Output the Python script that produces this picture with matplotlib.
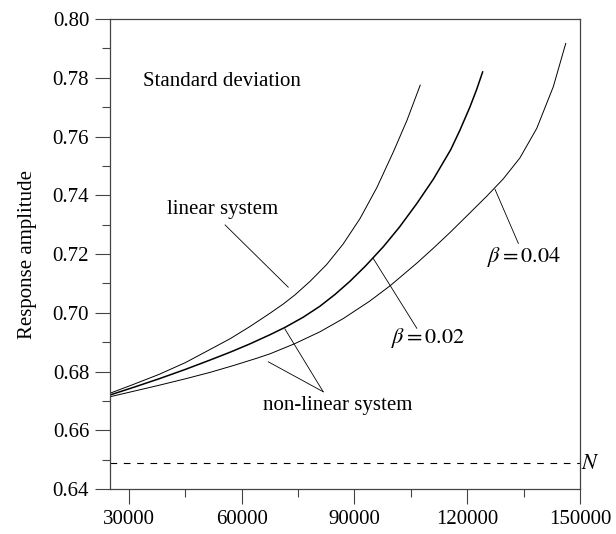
import matplotlib
matplotlib.use("Agg")
import matplotlib.pyplot as plt
from matplotlib.ticker import MultipleLocator

# ---------------------------------
# Values
# ---------------------------------
n_linear = [25000, 31000, 38000, 45000, 51600, 57000, 62200, 67500, 71100,
            74200, 78200, 82600, 87000, 91500, 96000, 100400, 104000, 107500]
amp_linear = [0.6726, 0.6755, 0.6790, 0.6830, 0.6875, 0.6912, 0.6953, 0.6998, 0.7030,
              0.7061, 0.7107, 0.7164, 0.7234, 0.7321, 0.7427, 0.7549, 0.7656, 0.7775]

n_beta002 = [25000, 31000, 38000, 45000, 51600, 57000, 62200, 67500, 71500, 76400,
             80800, 84800, 88800, 93000, 97700, 102000, 106600, 111000, 115600,
             118000, 120700, 122500, 124100]
amp_beta002 = [0.6720, 0.6745, 0.6775, 0.6807, 0.6839, 0.6866, 0.6894, 0.6925, 0.6950,
               0.6985, 0.7022, 0.7062, 0.7107, 0.7160, 0.7225, 0.7292, 0.7372, 0.7455,
               0.7555, 0.7620, 0.7700, 0.7760, 0.7820]

n_beta004 = [25000, 31000, 38000, 45000, 51600, 58000, 64000, 67500, 74000, 80800,
             87000, 94000, 99500, 106600, 111000, 115400, 120000, 125200, 129600,
             134000, 138500, 142900, 146200]
amp_beta004 = [0.6714, 0.6732, 0.6753, 0.6775, 0.6797, 0.6821, 0.6845, 0.6860, 0.6894,
               0.6935, 0.6980, 0.7039, 0.7092, 0.7169, 0.7220, 0.7273, 0.7331, 0.7397,
               0.7456, 0.7527, 0.7628, 0.7770, 0.7917]

dashed_level = 0.649

x_ticks = [30000, 60000, 90000, 120000, 150000]
y_ticks = [0.64, 0.66, 0.68, 0.70, 0.72, 0.74, 0.76, 0.78, 0.80]

plt.rcParams["font.family"] = ["Liberation Serif", "DejaVu Serif"]
plt.rcParams["mathtext.fontset"] = "stix"

fig = plt.figure(figsize=(6.16, 5.34), dpi=100)
ax = fig.add_axes([0.1786, 0.0843, 0.763, 0.880])

ax.plot(n_linear, amp_linear, color="black", lw=0.7)
ax.plot(n_beta002, amp_beta002, color="black", lw=1.1)
ax.plot(n_beta004, amp_beta004, color="black", lw=0.7)
ax.axhline(dashed_level, color="black", lw=0.8, linestyle=(0, (6, 6)))

ax.set_xlim(25000, 150000)
ax.set_ylim(0.64, 0.80)
ax.set_xticks(x_ticks)
ax.set_xticklabels([str(t) for t in x_ticks])
ax.set_yticks(y_ticks)
ax.set_yticklabels([f"{t:.2f}" for t in y_ticks])
ax.xaxis.set_minor_locator(MultipleLocator(15000))
ax.yaxis.set_minor_locator(MultipleLocator(0.01))
ax.tick_params(which="major", direction="out", length=11, width=0.8,
               labelsize=15, pad=4, color="#444444")
ax.tick_params(which="minor", direction="out", length=5.5, width=0.8,
               color="#444444")
for side in ["left", "bottom", "top", "right"]:
    ax.spines[side].set_linewidth(0.9)
    ax.spines[side].set_color("#444444")

ax.set_ylabel("Response amplitude", fontsize=15, labelpad=11)

# text labels and leader lines
ax.text(33800, 0.7786, "Standard deviation", fontsize=15, va="center", ha="left")

ax.text(54800, 0.7350, "linear system", fontsize=15, va="center", ha="center")
ax.plot([55600, 72400], [0.7299, 0.7087], color="black", lw=0.6)

ax.text(85500, 0.6684, "non-linear system", fontsize=15, va="center", ha="center")
ax.plot([67100, 81700], [0.6833, 0.6731], color="black", lw=0.6)
ax.plot([71500, 81700], [0.6945, 0.6731], color="black", lw=0.6)

ax.text(109500, 0.6913, r"$\beta = 0.02$", fontsize=16, va="center", ha="center")
ax.plot([106600, 95000], [0.6947, 0.7185], color="black", lw=0.6)

ax.text(135100, 0.7191, r"$\beta = 0.04$", fontsize=16, va="center", ha="center")
ax.plot([133600, 127400], [0.7236, 0.7420], color="black", lw=0.6)

ax.text(152700, 0.6484, r"$N$", fontsize=16, va="center", ha="center", clip_on=False)

fig.savefig("out.png", dpi=100)
